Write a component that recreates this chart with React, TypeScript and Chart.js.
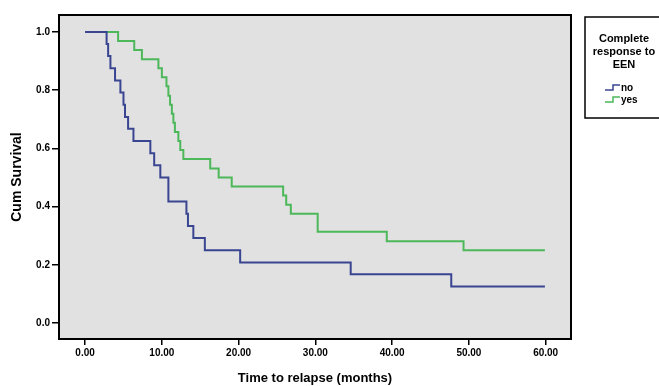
import React, { useEffect, useRef } from "react";
import { Chart, registerables } from "chart.js";

Chart.register(...registerables);

const legendTitle = ["Complete", "response to", "EEN"];
const seriesLabels = ["no", "yes"];
const seriesColors = ["#3a4592", "#4cb85a"];

const noTimes = [0, 2.8, 3.0, 3.3, 3.9, 4.6, 5.0, 5.2, 5.6, 6.3, 8.5, 9.0, 9.8, 10.85, 13.2, 13.4, 14.1, 15.6, 20.2, 34.6, 47.7, 59.9];
const noSurv = [1, 0.958, 0.917, 0.875, 0.833, 0.792, 0.75, 0.708, 0.667, 0.625, 0.583, 0.542, 0.5, 0.417, 0.375, 0.333, 0.292, 0.25, 0.208, 0.167, 0.125, 0.125];

const yesTimes = [0, 4.3, 6.4, 7.4, 9.55, 10.0, 10.6, 10.85, 11.07, 11.3, 11.5, 11.7, 12.15, 12.4, 12.8, 16.3, 17.4, 19.1, 25.8, 26.2, 26.8, 30.3, 39.3, 49.3, 59.9];
const yesSurv = [1, 0.969, 0.938, 0.906, 0.875, 0.844, 0.813, 0.781, 0.75, 0.719, 0.688, 0.656, 0.625, 0.594, 0.563, 0.531, 0.5, 0.469, 0.438, 0.406, 0.375, 0.313, 0.281, 0.25, 0.25];

const xTicks = [0, 10, 20, 30, 40, 50, 60];
const yTicks = [0, 0.2, 0.4, 0.6, 0.8, 1.0];

const FONT = "'Liberation Sans', Arial, sans-serif";

const plotFrame = {
  id: "plotFrame",
  beforeDatasetsDraw(chart: any) {
    const { ctx, chartArea: a } = chart;
    ctx.save();
    ctx.fillStyle = "#e1e1e1";
    ctx.fillRect(a.left, a.top, a.right - a.left, a.bottom - a.top);
    ctx.restore();
  },
  afterDraw(chart: any) {
    const { ctx, chartArea: a } = chart;
    ctx.save();
    ctx.strokeStyle = "#000";
    ctx.lineWidth = 2;
    ctx.strokeRect(a.left, a.top, a.right - a.left, a.bottom - a.top);

    // legend box
    const lx = a.right + 14;
    const ly = 17;
    ctx.fillStyle = "#fff";
    ctx.fillRect(lx, ly, 90, 101);
    ctx.lineWidth = 1.5;
    ctx.strokeRect(lx, ly, 90, 101);
    ctx.fillStyle = "#000";
    ctx.font = `bold 11px ${FONT}`;
    ctx.textAlign = "center";
    ctx.textBaseline = "middle";
    legendTitle.forEach((t, i) => ctx.fillText(t, 624, 39 + i * 13));
    chart.data.datasets.forEach((ds: any, i: number) => {
      const y = 88 + i * 12;
      ctx.strokeStyle = ds.borderColor;
      ctx.lineWidth = 1.5;
      ctx.beginPath();
      ctx.moveTo(605, y + 2);
      ctx.lineTo(613, y + 2);
      ctx.lineTo(613, y - 3);
      ctx.lineTo(620, y - 3);
      ctx.stroke();
      ctx.fillStyle = "#000";
      ctx.textAlign = "left";
      ctx.font = `bold 10px ${FONT}`;
      ctx.fillText(ds.label, 621, y);
    });
    ctx.restore();
  },
};

export default function App() {
  const ref = useRef<HTMLCanvasElement>(null);
  useEffect(() => {
    if (!ref.current) return;
    const chart = new Chart(ref.current, {
      type: "line",
      data: {
        datasets: [
          {
            label: seriesLabels[0],
            data: noTimes.map((t, i) => ({ x: t, y: noSurv[i] })),
            borderColor: seriesColors[0],
            borderWidth: 2,
            stepped: true,
            pointRadius: 0,
            fill: false,
          },
          {
            label: seriesLabels[1],
            data: yesTimes.map((t, i) => ({ x: t, y: yesSurv[i] })),
            borderColor: seriesColors[1],
            borderWidth: 2,
            stepped: true,
            pointRadius: 0,
            fill: false,
          },
        ],
      },
      options: {
        animation: false,
        responsive: false,
        maintainAspectRatio: false,
        layout: { padding: { top: 15, right: 88, left: 0, bottom: 0 } },
        plugins: { legend: { display: false }, tooltip: { enabled: false } },
        scales: {
          x: {
            type: "linear",
            min: -3.4,
            max: 63.3,
            afterBuildTicks: (s: any) => {
              s.ticks = xTicks.map((v) => ({ value: v }));
            },
            afterFit: (s: any) => {
              s.height = 47;
            },
            grid: { drawOnChartArea: false, drawTicks: true, tickLength: 6, color: "#000", lineWidth: 1.5 },
            border: { display: false },
            ticks: {
              color: "#000",
              padding: 2,
              maxRotation: 0,
              font: { family: FONT, size: 10, weight: "bold" },
              callback: (v: any) => Number(v).toFixed(2),
            },
            title: {
              display: true,
              text: "Time to relapse (months)",
              color: "#000",
              font: { family: FONT, size: 13, weight: "bold" },
              padding: { top: 0, bottom: 0 },
            },
          },
          y: {
            type: "linear",
            min: -0.055,
            max: 1.058,
            afterBuildTicks: (s: any) => {
              s.ticks = yTicks.map((v) => ({ value: v }));
            },
            afterFit: (s: any) => {
              s.width = 59;
            },
            grid: { drawOnChartArea: false, drawTicks: true, tickLength: 7, color: "#000", lineWidth: 1.5 },
            border: { display: false },
            ticks: {
              color: "#000",
              padding: 2,
              font: { family: FONT, size: 10, weight: "bold" },
              callback: (v: any) => Number(v).toFixed(1),
            },
            title: {
              display: true,
              text: "Cum Survival",
              color: "#000",
              font: { family: FONT, size: 14, weight: "bold" },
              padding: { top: 9, bottom: 0 },
            },
          },
        },
      },
      plugins: [plotFrame],
    });
    return () => chart.destroy();
  }, []);
  return (
    <div style={{ position: "fixed", left: 0, top: 0, width: 659, height: 386, background: "#fff" }}>
      <canvas ref={ref} width={659} height={386} style={{ width: 659, height: 386, display: "block" }} />
    </div>
  );
}
